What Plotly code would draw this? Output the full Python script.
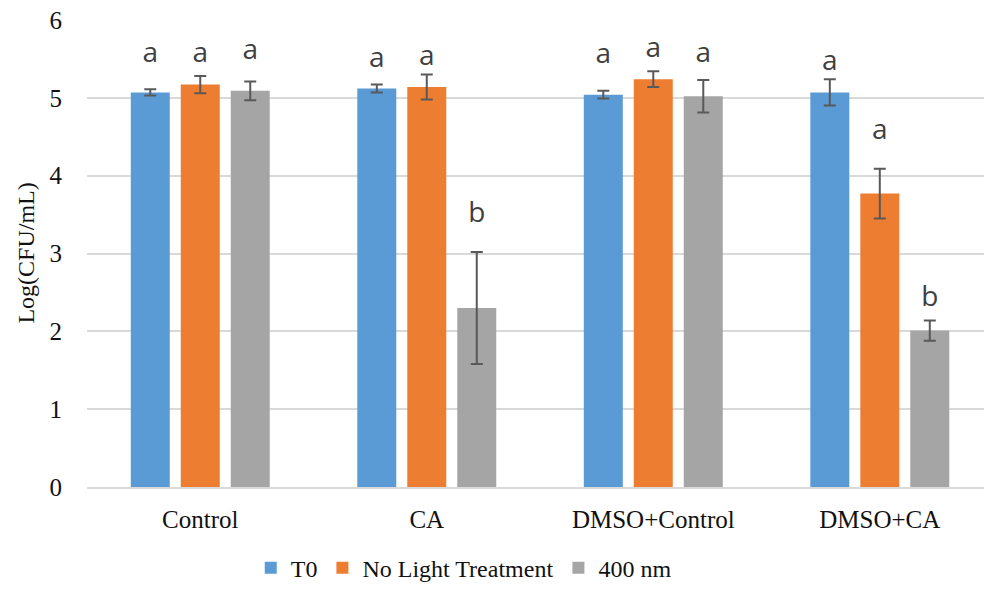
import plotly.graph_objects as go

categories = ["Control", "CA", "DMSO+Control", "DMSO+CA"]
series_names = ["T0", "No Light Treatment", "400 nm"]
t0_vals = [5.07, 5.12, 5.04, 5.07]
t0_err = [0.04, 0.05, 0.05, 0.17]
nolight_vals = [5.17, 5.14, 5.24, 3.77]
nolight_err = [0.11, 0.16, 0.10, 0.32]
nm400_vals = [5.09, 2.30, 5.02, 2.01]
nm400_err = [0.12, 0.72, 0.21, 0.13]
t0_letters = ["a", "a", "a", "a"]
nolight_letters = ["a", "a", "a", "a"]
nm400_letters = ["a", "b", "a", "b"]
t0_letter_y = [5.55, 5.49, 5.54, 5.45]
nolight_letter_y = [5.55, 5.51, 5.62, 4.56]
nm400_letter_y = [5.59, 3.50, 5.55, 2.41]

colors = ["#5B9BD5", "#ED7D31", "#A5A5A5"]
vals = [t0_vals, nolight_vals, nm400_vals]
errs = [t0_err, nolight_err, nm400_err]
letters = [t0_letters, nolight_letters, nm400_letters]
letter_ys = [t0_letter_y, nolight_letter_y, nm400_letter_y]

SERIF = "Liberation Serif"

fig = go.Figure()
for i in range(3):
    fig.add_trace(go.Bar(
        x=categories, y=vals[i], name=series_names[i],
        marker=dict(color=colors[i], line=dict(width=0)),
        error_y=dict(type="data", array=errs[i], visible=True,
                     color="#595959", thickness=2, width=6),
        offsetgroup=str(i),
    ))

bar_slot = 0.2208
for i in range(3):
    fig.add_trace(go.Scatter(
        x=[j + (i - 1) * bar_slot for j in range(len(categories))],
        y=letter_ys[i], mode="text", text=letters[i],
        textfont=dict(family="Open Sans", size=28, color="#404040"),
        showlegend=False, hoverinfo="skip", xaxis="x2",
    ))

fig.update_layout(
    width=984, height=592,
    margin=dict(l=87, r=0, t=20, b=105),
    plot_bgcolor="white", paper_bgcolor="white",
    barmode="group", bargap=0.338, bargroupgap=0.22,
    font=dict(family=SERIF, size=24, color="#111"),
    xaxis=dict(range=[-0.5, 3.46], showgrid=False, showline=True,
               linecolor="#d9d9d9", linewidth=1.5, ticks="",
               ticklabelstandoff=9, automargin=False,
               tickfont=dict(family=SERIF, size=25, color="#111")),
    xaxis2=dict(range=[-0.5, 3.46], overlaying="x", visible=False),
    yaxis=dict(range=[0, 6], dtick=1, showgrid=True, gridcolor="#d9d9d9",
               gridwidth=1.5, zeroline=False, ticks="",
               ticklabelstandoff=24, automargin=False,
               tickfont=dict(family=SERIF, size=25, color="#111")),
    annotations=[dict(text="Log(CFU/mL)", textangle=-90, xref="paper", yref="paper",
                      x=-0.069, y=0.50, xanchor="center", yanchor="middle",
                      showarrow=False,
                      font=dict(family=SERIF, size=24, color="#111"))],
    legend=dict(orientation="h", x=0.42, xanchor="center", y=-0.222, yanchor="bottom",
                font=dict(family=SERIF, size=24, color="#111"),
                itemwidth=30, tracegroupgap=0),
)

fig.write_html("out.html")
